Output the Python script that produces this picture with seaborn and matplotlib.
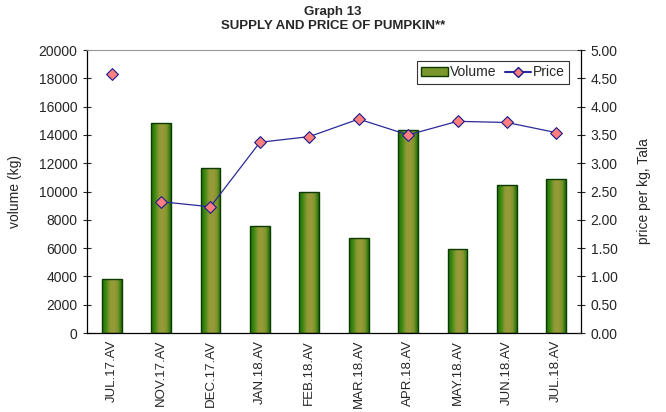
import numpy as np
import pandas as pd
import matplotlib
matplotlib.use("Agg")
import matplotlib.pyplot as plt
import seaborn as sns
from matplotlib.colors import LinearSegmentedColormap
from matplotlib.lines import Line2D
from matplotlib.patches import Patch

# data
meses = ["JUL.17.AV", "NOV.17.AV", "DEC.17.AV", "JAN.18.AV", "FEB.18.AV",
         "MAR.18.AV", "APR.18.AV", "MAY.18.AV", "JUN.18.AV", "JUL.18.AV"]
volume = [3850, 14850, 11650, 7550, 9980, 6720, 14350, 5930, 10450, 10880]
preco = [4.57, 2.32, 2.23, 3.37, 3.47, 3.78, 3.50, 3.74, 3.72, 3.54]

sns.set_style("white")
plt.rcParams["font.family"] = ["Liberation Sans", "DejaVu Sans"]
plt.rcParams["font.size"] = 10

df = pd.DataFrame({"mes": meses, "volume": volume, "preco": preco})

fig = plt.figure(figsize=(6.66, 4.12), dpi=100)
ax = fig.add_axes([0.1306, 0.1917, 0.7418, 0.6869])

sns.barplot(data=df, x="mes", y="volume", color="#8e9a2e", width=0.4,
            edgecolor="#0c3a00", linewidth=1.0, ax=ax, zorder=2)

# gradiente verde nas barras (estilo Excel)
grad = LinearSegmentedColormap.from_list(
    "g", ["#1f6e08", "#3f8a12", "#8f9a35", "#9a9a3a", "#7f962c", "#1f6e08"])
img = np.linspace(0, 1, 64).reshape(1, -1)
for p in ax.patches:
    x0, y0 = p.get_x(), p.get_y()
    w, h = p.get_width(), p.get_height()
    im = ax.imshow(img, cmap=grad, aspect="auto", extent=[x0, x0 + w, y0, y0 + h],
                   zorder=2.5)
    im.set_clip_path(p)
    p.set_facecolor("none")
    p.set_zorder(3)

ax.set_xlim(-0.5, len(meses) - 0.5)
ax.set_ylim(0, 20000)
ax.set_yticks(range(0, 20001, 2000))
ax.set_ylabel("volume (kg)", fontsize=10, labelpad=12)
ax.set_xlabel("")
ax.set_xticks(range(len(meses)))
ax.set_xticklabels(meses, rotation=90, fontsize=9.5)
ax.set_xticks(np.arange(-0.5, len(meses), 1), minor=True)
ax.tick_params(axis="x", which="major", length=0, pad=5)
ax.tick_params(axis="x", which="minor", direction="inout", length=6, width=0.8)
ax.tick_params(axis="y", direction="inout", length=6, width=0.8, labelsize=10, pad=4)

for s in ["left", "bottom"]:
    ax.spines[s].set_color("black")
    ax.spines[s].set_linewidth(0.9)
ax.spines["top"].set_color("#999999")
ax.spines["right"].set_visible(False)

ax2 = ax.twinx()
xs = np.arange(len(meses))
ax2.plot(xs[1:], preco[1:], color="#2a2a9a", linewidth=0.9, zorder=4)
ax2.scatter(xs, preco, marker="D", s=36, color="#ff7f7f",
            edgecolor="#1a1a8c", linewidth=0.8, zorder=5)
ax2.set_ylim(0, 5)
ax2.set_yticks(np.arange(0, 5.01, 0.5))
ax2.set_yticklabels([f"{v:.2f}" for v in np.arange(0, 5.01, 0.5)])
ax2.set_ylabel("price per kg, Tala", fontsize=10, labelpad=14)
ax2.tick_params(axis="y", direction="inout", length=6, width=0.8, labelsize=10, pad=4)
ax2.spines["right"].set_color("black")
ax2.spines["right"].set_linewidth(0.9)
for s in ["top", "left", "bottom"]:
    ax2.spines[s].set_visible(False)

handles = [Patch(facecolor="#7a962c", edgecolor="#0c3a00", label="Volume"),
           Line2D([0], [0], color="#2a2a9a", marker="D", markersize=5,
                  markerfacecolor="#ff7f7f", markeredgecolor="#1a1a8c", label="Price")]
leg = ax2.legend(handles=handles, loc="upper right", ncol=2, fontsize=10,
                 frameon=True, fancybox=False, edgecolor="black",
                 handlelength=1.9, handletextpad=0.15, columnspacing=0.6,
                 borderpad=0.3, bbox_to_anchor=(0.99, 0.985))
leg.get_frame().set_linewidth(0.8)

fig.suptitle("Graph 13\nSUPPLY AND PRICE OF PUMPKIN**", fontsize=9.5,
             fontweight="bold", y=0.985, x=0.5, linespacing=1.15)

fig.savefig("out.png", dpi=100)
